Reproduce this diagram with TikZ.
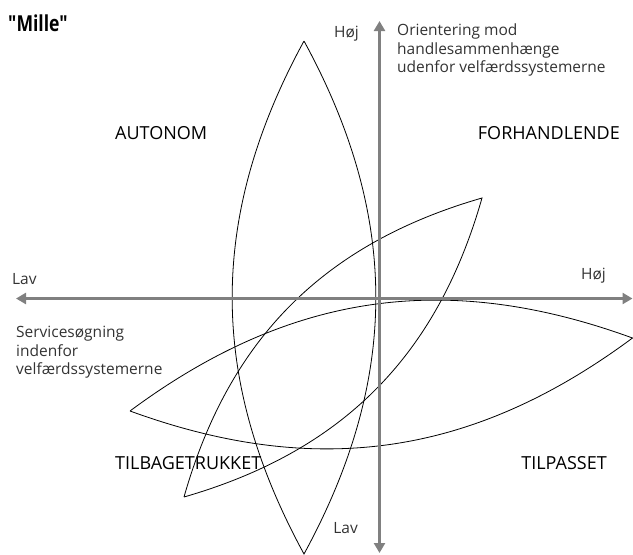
\documentclass[tikz,border=0pt]{standalone}
\usepackage{fontspec}
\setmainfont{Open Sans}
\newfontfamily\titlefont[FakeStretch=0.8]{Open Sans}
\usepackage{tikz}
\usetikzlibrary{arrows.meta}

\begin{document}
\begin{tikzpicture}[x=1pt, y=-1pt,
    axisline/.style={draw=black!50, line width=3pt, {Triangle[width=11pt,length=10pt]}-{Triangle[width=11pt,length=10pt]}},
    lensline/.style={draw=black, line width=0.8pt},
    lbl/.style={inner sep=0pt, font=\fontsize{15.5}{18.5}\selectfont, text=black!80},
    quad/.style={inner sep=0pt, font=\fontsize{18}{21}\selectfont, text=black}]
    \useasboundingbox (0,0) rectangle (633,555);
    % axes
    \coordinate (vTop) at (379.5,21);
    \coordinate (vBot) at (379.5,553);
    \coordinate (hL) at (16,298.5);
    \coordinate (hR) at (632.5,298.5);
    % lens tips
    \coordinate (A1) at (304,41);   \coordinate (B1) at (304,554);
    \coordinate (A2) at (184,497);  \coordinate (B2) at (482,198);
    \coordinate (A3) at (130,411);  \coordinate (B3) at (632.5,338);
    \foreach \i/\b in {1/28.6, 2/29, 3/28.3}
        \draw[lensline] (A\i) to[bend left=\b] (B\i) to[bend left=\b] (A\i);
    \draw[axisline] (vBot) -- (vTop);
    \draw[axisline] (hL) -- (hR);
    % texts
    \node[anchor=base west, inner sep=0pt, font=\titlefont\bfseries\fontsize{22}{24}\selectfont] (title) at (8,31) {"Mille"};
    \node[lbl, anchor=base east] (vHigh) at (359,37) {Høj};
    \node[lbl, anchor=north west, align=left] (vDesc) at (397,24) {Orientering mod\\handlesammenhænge\\udenfor velfærdssystemerne};
    \node[lbl, anchor=base west] (hLow) at (12,284) {Lav};
    \node[lbl, anchor=base east] (hHigh) at (606,279) {Høj};
    \node[lbl, anchor=north west, align=left] (hDesc) at (16,326) {Servicesøgning\\indenfor\\velfærdssystemerne};
    \node[lbl, anchor=base east] (vLow) at (358,533) {Lav};
    \node[quad, anchor=base west] (autonom) at (115,139) {AUTONOM};
    \node[quad, anchor=base east] (forh) at (620,139) {FORHANDLENDE};
    \node[quad, anchor=base west] (tilbage) at (115,469) {TILBAGETRUKKET};
    \node[quad, anchor=base east] (tilpas) at (607,469) {TILPASSET};
\end{tikzpicture}
\end{document}
